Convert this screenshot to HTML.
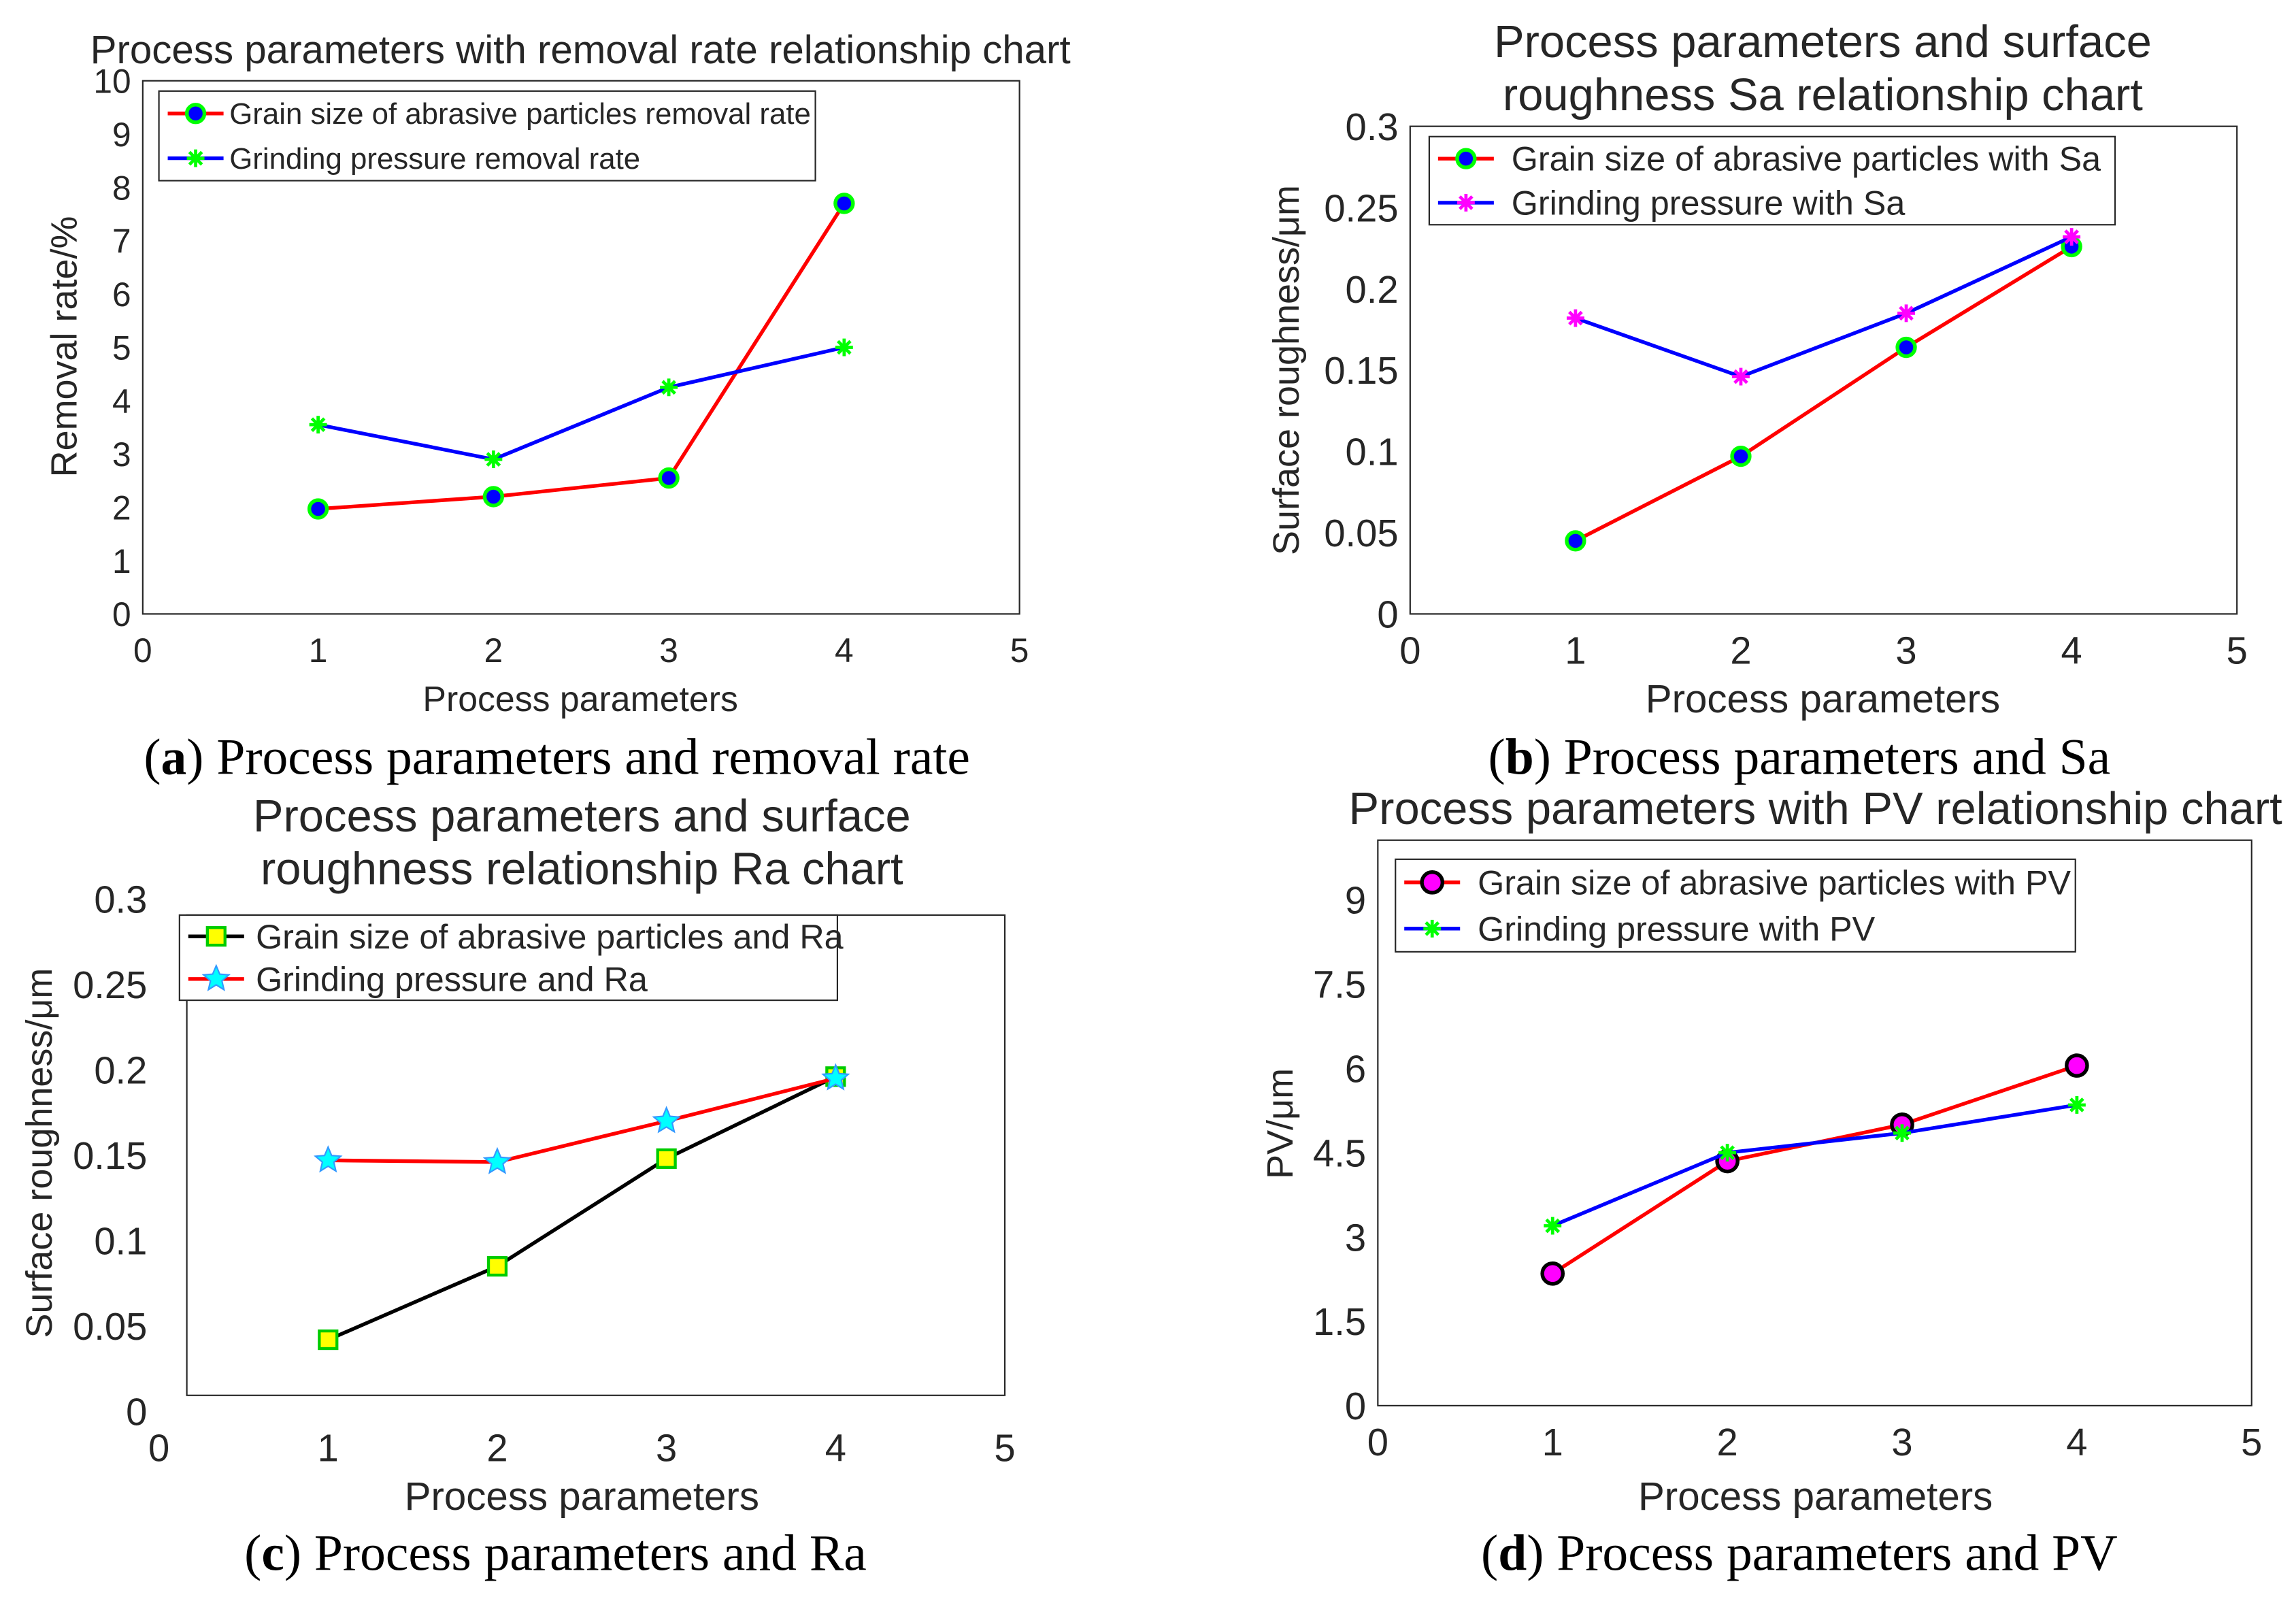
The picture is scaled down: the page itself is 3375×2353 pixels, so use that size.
<!DOCTYPE html>
<html><head><meta charset="utf-8"><style>
html,body{margin:0;padding:0;background:#fff}
svg{display:block}
text{font-family:"Liberation Sans",sans-serif;fill:#262626}
.cap{font-family:"Liberation Serif",serif;fill:#000;font-size:35px}
</style></head><body>
<svg id="fig" width="3375" height="2353" viewBox="0 0 1563 1090" xmlns="http://www.w3.org/2000/svg"></svg>
<script>
const xCats=[1,2,3,4];
const xTicks=[0,1,2,3,4,5];
const aGrain=[1.97,2.2,2.55,7.7];
const aPress=[3.55,2.9,4.25,5.0];
const aTicks=[0,1,2,3,4,5,6,7,8,9,10];
const bGrain=[0.045,0.097,0.164,0.226];
const bPress=[0.182,0.146,0.185,0.232];
const bTicks=[0,0.05,0.1,0.15,0.2,0.25,0.3];
const cGrain=[0.042,0.085,0.148,0.196];
const cPress=[0.147,0.146,0.170,0.195];
const cTicks=[0,0.05,0.1,0.15,0.2,0.25,0.3];
const dGrain=[2.35,4.35,5.0,6.05];
const dPress=[3.2,4.5,4.85,5.35];
const dTicks=[0,1.5,3,4.5,6,7.5,9];

const NS="http://www.w3.org/2000/svg";
const svg=document.getElementById('fig');
function el(tag,attrs,parent,txt){const e=document.createElementNS(NS,tag);for(const k in attrs)e.setAttribute(k,attrs[k]);if(txt!==undefined)e.textContent=txt;(parent||svg).appendChild(e);return e;}

function star(g,cx,cy,r,fill,stroke){
  let p=[];for(let i=0;i<10;i++){const a=-Math.PI/2+i*Math.PI/5;const rr=i%2?r*0.45:r;p.push((cx+rr*Math.cos(a)).toFixed(1)+','+(cy+rr*Math.sin(a)).toFixed(1));}
  return el('polygon',{points:p.join(' '),fill:fill,stroke:stroke,'stroke-width':1},g);
}
function asterisk(g,cx,cy,r,color){
  const s=el('g',{stroke:color,'stroke-width':2.2},g);
  for(let i=0;i<4;i++){const a=i*Math.PI/4;el('line',{x1:cx-r*Math.cos(a),y1:cy-r*Math.sin(a),x2:cx+r*Math.cos(a),y2:cy+r*Math.sin(a)},s);}
  return s;
}
function marker(g,type,cx,cy,m){
  let e;
  if(type==='circle')e=el('circle',{cx:cx,cy:cy,r:m.r||6,fill:m.fill,stroke:m.stroke,'stroke-width':m.sw||2.5},g);
  else if(type==='ast')e=asterisk(g,cx,cy,m.r||6,m.fill);
  else if(type==='square')e=el('rect',{x:cx-6,y:cy-6,width:12,height:12,fill:m.fill,stroke:m.stroke,'stroke-width':2},g);
  else if(type==='star')e=star(g,cx,cy,m.r||9,m.fill,m.stroke);
  return e;
}

function chart(cfg){
  const g=el('g',{},svg);
  
  
  const X=v=>cfg.x0+(v-0)/(5-0)*(cfg.x1-cfg.x0);
  const Y=v=>cfg.y0-(v-cfg.ymin)/(cfg.ymax-cfg.ymin)*(cfg.y0-cfg.y1);
  const fs=cfg.fs;
  const fr=cfg.frame;
  el('rect',{x:fr[0],y:fr[1],width:fr[2]-fr[0],height:fr[3]-fr[1],fill:'none',stroke:'#262626','stroke-width':1},g);
  xTicks.forEach(t=>{
    const tx=el('text',{x:X(t),y:cfg.y0+24+fs.tick*0.38,'text-anchor':'middle','font-size':fs.tick},g,String(t));
    
    
  });
  cfg.yt.forEach(t=>{
    const ty=el('text',{x:cfg.x0-8,y:Y(t)+fs.tick*0.36,'text-anchor':'end','font-size':fs.tick},g,String(t));
    
    
  });
  cfg.title.forEach((l,i)=>{
    const t=el('text',{x:cfg.tx,y:cfg.ty+i*36,'text-anchor':'middle','font-size':fs.title,fill:'#000'},g,l);
    
    
  });
  const xl=el('text',{x:cfg.xlx,y:cfg.xly,'text-anchor':'middle','font-size':fs.xl},g,'Process parameters');
  
  
  const yl=el('text',{x:0,y:0,'text-anchor':'middle','font-size':fs.yl,transform:`translate(${cfg.ylx},${cfg.yly}) rotate(-90)`},g,cfg.ylabel);
  
  
  cfg.series.forEach(s=>{
    const sg=el('g',{},g);
    
    
    el('polyline',{points:xCats.map((c,i)=>X(c)+','+Y(s.data[i])).join(' '),fill:'none',stroke:s.line,'stroke-width':2.5},sg);
    xCats.forEach((c,i)=>{
      const m=marker(sg,s.type,X(c),Y(s.data[i]),s.m);
      
      
    });
  });
  const L=cfg.leg;
  const lg=el('g',{},g);
  
  
  el('rect',{x:L[0],y:L[1],width:L[2]-L[0],height:L[3]-L[1],fill:'#fff',stroke:'#262626','stroke-width':1},lg);
  const rowH=(L[3]-L[1])/2;
  cfg.series.forEach((s,i)=>{
    const cy=L[1]+rowH*(i+0.5);
    const eg=el('g',{},lg);
    
    
    el('line',{x1:L[0]+6,y1:cy,x2:L[0]+44,y2:cy,stroke:s.line,'stroke-width':2.5},eg);
    marker(eg,s.type,L[0]+25,cy,s.m);
    el('text',{x:L[0]+cfg.lx,y:cy+fs.leg*0.35,'font-size':fs.leg,fill:'#000'},eg,s.label);
  });
}

const fsA={tick:23,title:27,xl:24,yl:25,leg:20.3};
const fsB={tick:26,title:31,xl:27,yl:25,leg:23.3};

chart({name:'chart-removal-rate',fs:fsA,lx:48,x0:97,x1:694,y0:418,y1:55,ymin:0,ymax:10,yt:aTicks,
 frame:[97,55,694,418],title:['Process parameters with removal rate relationship chart'],tx:395,ty:43,
 xlx:395,xly:484,ylx:52,yly:236,ylabel:'Removal rate/%',leg:[108,62,555,123],
 series:[{name:'series-grain-size',label:'Grain size of abrasive particles removal rate',data:aGrain,line:'#ff0000',type:'circle',m:{fill:'#0000ff',stroke:'#00ff00'}},
         {name:'series-grinding-pressure',label:'Grinding pressure removal rate',data:aPress,line:'#0000ff',type:'ast',m:{fill:'#00ff00'}}]});

chart({name:'chart-sa',fs:fsB,lx:56,x0:960,x1:1523,y0:418,y1:86,ymin:0,ymax:0.3,yt:bTicks,
 frame:[960,86,1523,418],title:['Process parameters and surface','roughness Sa relationship chart'],tx:1241,ty:39,
 xlx:1241,xly:485,ylx:884,yly:252,ylabel:'Surface roughness/μm',leg:[973,93,1440,153],
 series:[{name:'series-grain-size',label:'Grain size of abrasive particles with Sa',data:bGrain,line:'#ff0000',type:'circle',m:{fill:'#0000ff',stroke:'#00ff00'}},
         {name:'series-grinding-pressure',label:'Grinding pressure with Sa',data:bPress,line:'#0000ff',type:'ast',m:{fill:'#ff00ff'}}]});

chart({name:'chart-ra',fs:fsB,lx:52,x0:108,x1:684,y0:961,y1:612,ymin:0,ymax:0.3,yt:cTicks,
 frame:[127,623,684,950],title:['Process parameters and surface','roughness relationship Ra chart'],tx:396,ty:566,
 xlx:396,xly:1028,ylx:35,yly:785,ylabel:'Surface roughness/μm',leg:[122,623,570,681],
 series:[{name:'series-grain-size',label:'Grain size of abrasive particles and Ra',data:cGrain,line:'#000000',type:'square',m:{fill:'#ffff00',stroke:'#00cc00'}},
         {name:'series-grinding-pressure',label:'Grinding pressure and Ra',data:cPress,line:'#ff0000',type:'star',m:{fill:'#00ffff',stroke:'#3399ff'}}]});

chart({name:'chart-pv',fs:fsB,lx:56,x0:938,x1:1533,y0:957,y1:612.6,ymin:0,ymax:9,yt:dTicks,
 frame:[938,572,1533,957],title:['Process parameters with PV relationship chart'],tx:1236,ty:561,
 xlx:1236,xly:1028,ylx:880,yly:765,ylabel:'PV/μm',leg:[950,585,1413,648],
 series:[{name:'series-grain-size',label:'Grain size of abrasive particles with PV',data:dGrain,line:'#ff0000',type:'circle',m:{fill:'#ff00ff',stroke:'#000000',r:7}},
         {name:'series-grinding-pressure',label:'Grinding pressure with PV',data:dPress,line:'#0000ff',type:'ast',m:{fill:'#00ff00'}}]});

const caps=[['(a) Process parameters and removal rate',379,527],['(b) Process parameters and Sa',1225,527],['(c) Process parameters and Ra',378,1069],['(d) Process parameters and PV',1225,1069]];
caps.forEach(c=>{
  const t=el('text',{x:c[1],y:c[2],'text-anchor':'middle',class:'cap'});
  
  
  el('tspan',{},t,'(');
  el('tspan',{'font-weight':'bold'},t,c[0].charAt(1));
  el('tspan',{},t,c[0].slice(2));
});
</script>
</body></html>
